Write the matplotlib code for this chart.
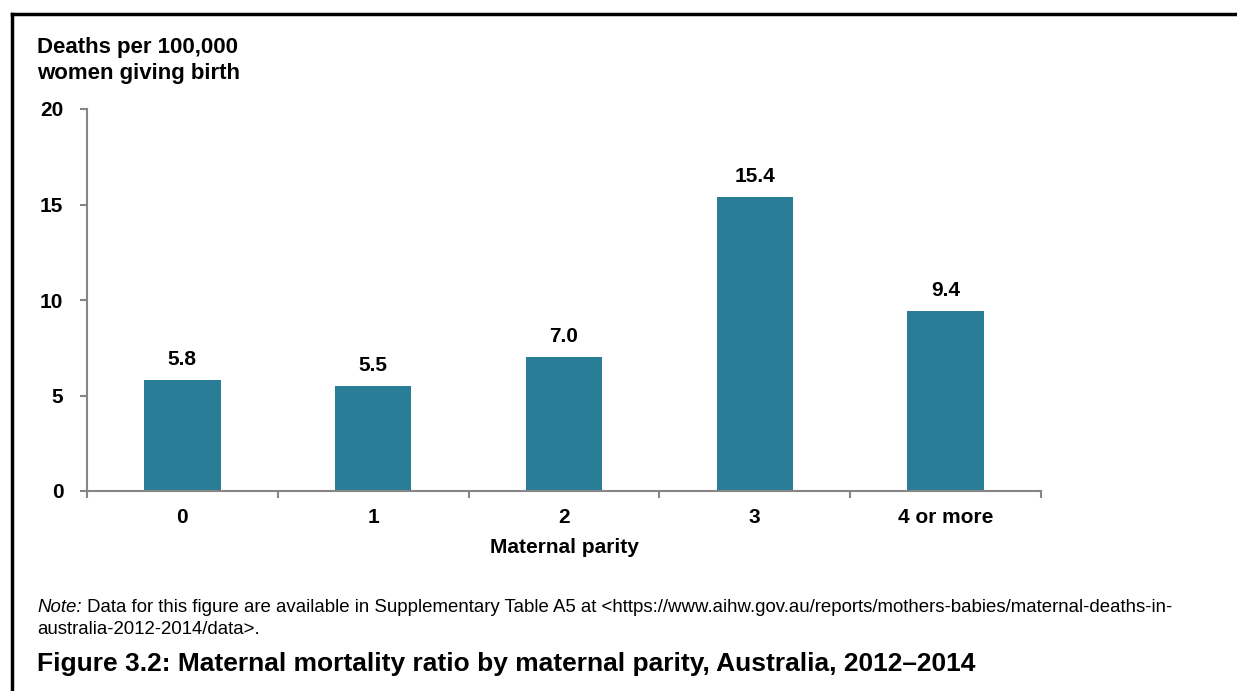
import matplotlib
matplotlib.use("Agg")
import matplotlib.pyplot as plt
from matplotlib.lines import Line2D

categories = ["0", "1", "2", "3", "4 or more"]
values = [5.8, 5.5, 7.0, 15.4, 9.4]
yticks = [0, 5, 10, 15, 20]

plt.rcParams['font.family'] = ['Liberation Sans', 'DejaVu Sans']

W, H = 1237, 691
fig = plt.figure(figsize=(W / 100, H / 100), dpi=100)

ax = fig.add_axes([87 / W, 1 - 491 / H, (1041 - 87) / W, (491 - 109) / H])
x = list(range(len(categories)))
ax.bar(x, values, width=0.4, color="#2A7D96", zorder=2)
for xi, v in zip(x, values):
    ax.annotate(f"{v:.1f}", (xi, v), xytext=(0, 11), textcoords="offset points",
                ha="center", va="baseline", fontsize=15, fontweight="bold")

ax.set_xlim(-0.5, len(categories) - 0.5)
ax.set_ylim(0, 20)
ax.set_yticks(yticks)
ax.set_yticklabels([str(t) for t in yticks], fontsize=15, fontweight="bold")
ax.set_xticks(x)
ax.set_xticklabels(categories, fontsize=15, fontweight="bold")
ax.set_xticks([i - 0.5 for i in range(len(categories) + 1)], minor=True)
ax.tick_params(axis="x", which="major", length=0, pad=12)
ax.tick_params(axis="x", which="minor", length=5, width=1.5, color="#868686", direction="out")
ax.tick_params(axis="y", length=5, width=1.5, color="#868686", direction="out", pad=12)
for s in ["top", "right"]:
    ax.spines[s].set_visible(False)
for s in ["left", "bottom"]:
    ax.spines[s].set_color("#868686")
    ax.spines[s].set_linewidth(1.5)
ax.set_xlabel("Maternal parity", fontsize=15, fontweight="bold", labelpad=8)

fig.text(37 / W, 1 - 48 / H, "Deaths per 100,000", fontsize=16,
         fontweight="bold", ha="left", va="center")
fig.text(37 / W, 1 - 73 / H, "women giving birth", fontsize=16,
         fontweight="bold", ha="left", va="center")

# frame lines (top and left)
fig.add_artist(Line2D([12 / W, 1.0], [1 - 14 / H, 1 - 14 / H], color="black", lw=2.5,
                      transform=fig.transFigure))
fig.add_artist(Line2D([12 / W, 12 / W], [1 - 14 / H, 0], color="black", lw=2.5,
                      transform=fig.transFigure))

note1 = fig.text(37 / W, 1 - 608 / H, "Note:", fontsize=13.4, style="italic",
                 ha="left", va="center")
fig.canvas.draw()
ext = note1.get_window_extent()
fig.text(ext.x1 / W, 1 - 608 / H,
         " Data for this figure are available in Supplementary Table A5 at <https://www.aihw.gov.au/reports/mothers-babies/maternal-deaths-in-",
         fontsize=13.4, style="normal", ha="left", va="center")
fig.text(37 / W, 1 - 629 / H, "australia-2012-2014/data>.", fontsize=13.4, style="normal",
         ha="left", va="center")
fig.text(37 / W, 1 - 664 / H, "Figure 3.2: Maternal mortality ratio by maternal parity, Australia, 2012\u20132014",
         fontsize=19, fontweight="bold", ha="left", va="center")

fig.savefig("out.png", dpi=100)
